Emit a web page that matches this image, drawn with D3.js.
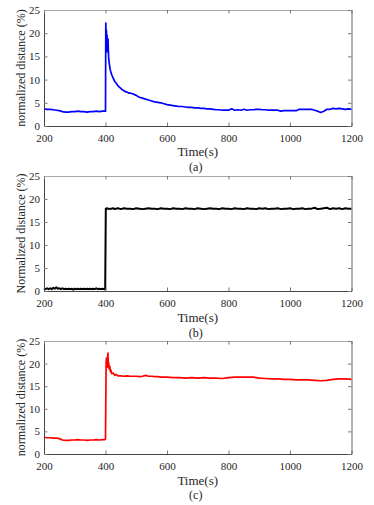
<!DOCTYPE html>
<html><head><meta charset="utf-8">
<script src="https://cdn.jsdelivr.net/npm/d3@7"></script>
<style>
html,body{margin:0;padding:0;background:#fff;}
svg text{font-family:"Liberation Serif","Times New Roman",Times,serif !important;}
</style></head>
<body><svg id="c" width="374" height="505" font-family="Liberation Serif, Times New Roman, serif"></svg>
<script>
// ---- data ----
const xTicks = [200,400,600,800,1000,1200];
const yTicks = [0,5,10,15,20,25];
const panelLabels = ["(a)","(b)","(c)"];
const yTitles = ["normalized distance (%)","Normalized distance (%)","normalized distance (%)"];
const xTitle = "Time(s)";

const timeA = [200,210,220,230,240,250,260,270,280,290,300,310,320,330,340,350,360,370,380,390,398,
  400,401,402,403,404,405,406,408,410,412,415,418,420,425,430,435,440,445,450,455,460,465,470,475,480,490,
  500,510,520,530,540,550,560,570,580,590,600,610,620,630,640,650,660,670,680,690,700,710,720,730,740,750,
  760,770,780,790,800,810,820,830,840,850,860,870,880,890,900,910,920,930,940,950,960,970,980,990,1000,
  1010,1020,1030,1040,1050,1060,1070,1080,1090,1100,1110,1120,1130,1140,1150,1160,1170,1180,1190,1200];
const valsA = [3.7,3.6,3.6,3.5,3.4,3.3,3.1,3.0,3.0,3.1,3.1,3.2,3.1,3.1,3.0,3.1,3.1,3.2,3.1,3.2,3.2,
  3.2,22.2,18.0,20.6,17.0,19.6,16.0,18.8,15.0,13.6,12.2,11.5,11.1,10.3,9.6,9.2,8.7,8.4,8.1,7.8,7.6,7.4,7.3,7.1,7.1,6.9,
  6.6,6.2,6.0,5.8,5.6,5.4,5.2,5.1,5.0,4.8,4.6,4.5,4.4,4.3,4.2,4.2,4.1,4.0,4.0,3.9,3.9,3.8,3.8,3.7,3.7,3.6,
  3.5,3.5,3.4,3.4,3.4,3.7,3.4,3.5,3.4,3.6,3.4,3.5,3.5,3.6,3.6,3.5,3.5,3.4,3.4,3.4,3.4,3.2,3.3,3.3,3.3,
  3.3,3.3,3.6,3.6,3.6,3.6,3.6,3.4,3.2,2.9,3.2,3.6,3.6,3.8,3.7,3.8,3.7,3.6,3.7,3.6];

const timeB = [200,205,210,215,220,225,230,235,240,245,250,255,260,265,270,275,280,285,290,295,300,305,310,315,320,325,330,335,340,345,350,355,360,365,370,375,380,385,390,395,399,
  401,405,410,415,420,425,430,435,440,445,450,460,470,480,490,500,510,520,530,540,550,560,570,580,590,600,610,620,630,640,650,660,670,680,690,700,
  710,720,730,740,750,760,770,780,790,800,810,820,830,840,850,860,870,880,890,900,910,920,930,940,950,960,970,980,990,1000,
  1010,1020,1030,1040,1050,1060,1070,1080,1090,1100,1110,1120,1130,1140,1150,1160,1170,1180,1190,1200];
const valsB = [0.6,0.4,0.6,0.4,0.6,0.4,0.7,0.5,0.8,0.5,0.6,0.4,0.6,0.4,0.5,0.4,0.5,0.4,0.5,0.3,0.5,0.4,0.5,0.4,0.5,0.4,0.5,0.4,0.5,0.4,0.5,0.4,0.5,0.4,0.6,0.4,0.5,0.4,0.5,0.4,0.4,
  17.9,18.0,17.8,17.9,17.9,18.0,17.8,17.9,18.0,17.9,17.8,18.0,17.9,17.9,17.8,18.0,17.9,17.8,17.9,18.0,17.9,17.9,17.8,18.0,17.9,17.9,17.8,18.0,17.9,17.9,17.8,18.0,17.9,17.9,17.8,18.0,
  17.9,17.8,17.9,18.0,17.9,17.9,17.8,18.0,17.9,17.9,17.8,18.0,17.9,17.9,17.8,18.0,17.9,17.9,17.8,18.0,17.9,18.0,17.8,17.9,17.9,18.0,17.8,17.9,17.9,18.0,
  17.8,17.9,17.9,18.0,17.8,17.9,17.9,18.1,17.8,17.9,18.0,18.1,17.8,18.0,17.9,18.0,17.8,18.0,17.9,17.9];

const timeC = [200,210,220,230,240,250,260,270,280,290,300,310,320,330,340,350,360,370,380,390,398,
  400,401,402,403,404,405,406,407,408,409,410,412,414,416,418,420,425,430,435,440,450,460,470,480,490,
  500,510,520,530,540,550,560,570,580,590,600,620,640,660,680,700,720,740,760,780,800,820,840,860,880,900,
  920,940,960,980,1000,1020,1040,1060,1080,1100,1120,1140,1160,1180,1200];
const valsC = [3.7,3.6,3.6,3.5,3.5,3.4,3.1,3.0,3.0,3.1,3.1,3.2,3.1,3.1,3.0,3.1,3.1,3.2,3.1,3.2,3.2,
  3.3,12.0,20.0,21.2,19.5,20.8,19.2,21.5,22.3,19.8,20.3,18.8,19.4,18.2,18.5,17.8,17.9,17.4,17.6,17.3,17.3,17.2,17.3,17.2,17.2,
  17.2,17.1,17.2,17.4,17.2,17.2,17.1,17.1,17.0,17.0,17.0,16.9,16.9,16.8,16.9,16.8,16.9,16.8,16.8,16.7,16.9,17.0,17.0,17.0,17.0,16.8,
  16.7,16.6,16.6,16.5,16.5,16.4,16.4,16.4,16.3,16.2,16.3,16.5,16.6,16.6,16.5];

const series = [
  {t: timeA, v: valsA, color: "#0000ff", width: 1.7},
  {t: timeB, v: valsB, color: "#000000", width: 2},
  {t: timeC, v: valsC, color: "#ff0000", width: 1.7}
];

// ---- layout ----
const FONT = "'Liberation Serif','Times New Roman',Times,serif";
const svg = d3.select("#c");
const panels = [
  {top: 10, bottom: 126, titleY: 156, labY: 171},
  {top: 176, bottom: 291, titleY: 322, labY: 337},
  {top: 341, bottom: 454, titleY: 485, labY: 499}
];
const left = 44, right = 351.5;

panels.forEach((p, i) => {
  const x = d3.scaleLinear().domain([200,1200]).range([left,right]);
  const y = d3.scaleLinear().domain([0,25]).range([p.bottom,p.top]);
  const g = svg.append("g");
  const s = series[i];
  const line = d3.line().x((d,k)=>x(s.t[k])).y(d=>y(d));
  g.append("path").datum(s.v).attr("d", line)
    .attr("fill","none").attr("stroke", s.color).attr("stroke-width", s.width)
    .attr("stroke-linejoin","round");

  const styleAx = (sel, col) => {
    sel.attr("font-family", FONT);
    sel.selectAll("path").attr("stroke", col).attr("stroke-width", 1);
    sel.selectAll("line").attr("stroke", "#777");
    sel.selectAll("text").attr("fill", "#262626").attr("font-family", FONT).style("font-size","11px");
  };
  const ax = g.append("g").attr("transform",`translate(0,${p.bottom})`)
    .call(d3.axisBottom(x).tickValues(xTicks).tickSizeInner(-3.5).tickSizeOuter(0).tickPadding(8).tickFormat(d3.format("d")));
  styleAx(ax, "#444");
  const ay = g.append("g").attr("transform",`translate(${left},0)`)
    .call(d3.axisLeft(y).tickValues(yTicks).tickSizeInner(-3.5).tickSizeOuter(0).tickPadding(4).tickFormat(d3.format("d")));
  styleAx(ay, "#444");
  const at = g.append("g").attr("transform",`translate(0,${p.top})`)
    .call(d3.axisTop(x).tickValues(xTicks).tickSizeInner(-3.5).tickSizeOuter(0).tickFormat(""));
  styleAx(at, "#a8a8a8");
  const ar = g.append("g").attr("transform",`translate(${right},0)`)
    .call(d3.axisRight(y).tickValues(yTicks).tickSizeInner(-3.5).tickSizeOuter(0).tickFormat(""));
  styleAx(ar, "#666");

  g.append("text").attr("x", (left+right)/2).attr("y", p.titleY).attr("font-family", FONT)
    .attr("text-anchor","middle").attr("fill","#262626").style("font-size","13px").text(xTitle);
  g.append("text").attr("x", (left+right)/2 - 2).attr("y", p.labY).attr("font-family", FONT)
    .attr("text-anchor","middle").attr("fill","#262626").style("font-size","12px").text(panelLabels[i]);
  g.append("text").attr("transform",`translate(25,${(p.top+p.bottom)/2}) rotate(-90)`).attr("font-family", FONT)
    .attr("text-anchor","middle").attr("fill","#262626").style("font-size","12px").text(yTitles[i]);
});
</script></body></html>
